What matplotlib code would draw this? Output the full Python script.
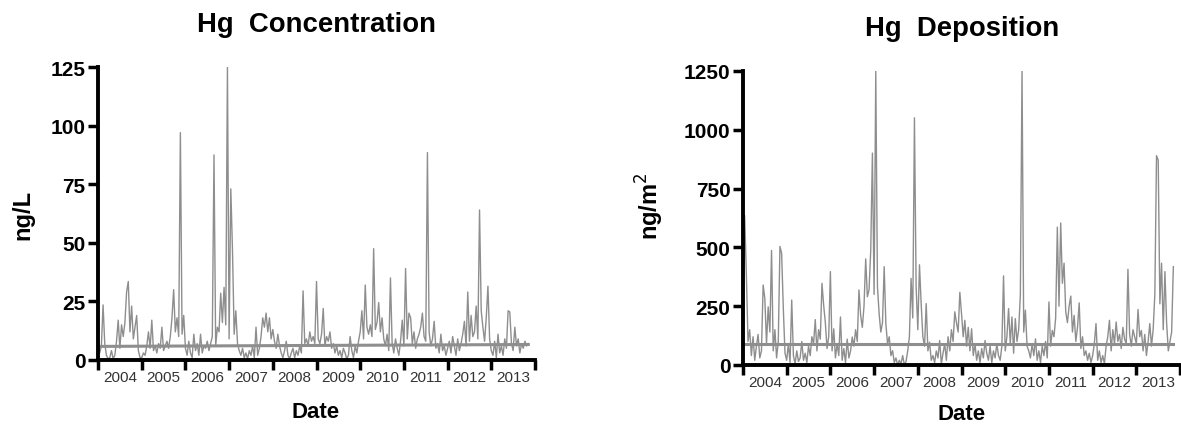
import numpy as np
import matplotlib.pyplot as plt

# biweekly samples, one row per year (2004 ... 2013)
conc_2004 = [8, 3, 6, 23.5, 7, 2, 0.5, 1, 4, 0.5, 2, 8, 17, 5, 15, 10, 16, 29, 33.5, 12, 23, 9, 14, 19, 4, 1]
conc_2005 = [1, 3, 2, 6, 12, 5, 17, 4, 6, 3, 7, 5, 14, 4, 6, 8, 5, 10, 18, 30, 12, 18, 10, 97, 11, 19]
conc_2006 = [5, 2, 8, 3, 1, 11, 4, 7, 2, 11, 3, 6, 5, 8, 4, 7, 10, 87.5, 6, 14, 12, 28.5, 16, 31, 15, 125]
conc_2007 = [9, 73, 47, 11, 21, 7, 4, 2, 5, 1, 3, 0.5, 4, 2, 6, 1, 14, 2, 5, 10, 18, 14, 20, 12, 18, 9]
conc_2008 = [13, 8, 5, 11, 6, 3, 1, 4, 8, 2, 0.5, 3, 5, 1, 4, 2, 6, 3, 29.5, 7, 9, 6, 12, 8, 10, 7]
conc_2009 = [33.5, 9, 7, 11, 22, 6, 10, 8, 12, 5, 7, 3, 6, 2, 4, 1, 5, 3, 0.5, 2, 10, 4, 1, 6, 3, 8]
conc_2010 = [12, 21, 9, 32, 14, 11, 15, 10, 47.5, 13, 16, 24.5, 12, 18, 9, 6, 11, 4, 35, 7, 3, 9, 5, 2, 8, 17]
conc_2011 = [6, 39, 9, 20, 18, 7, 12, 5, 9, 11, 14, 20, 10, 8, 88.5, 12, 6, 9, 16.5, 5, 7, 3, 11, 4, 6, 2]
conc_2012 = [5, 8, 3, 10, 6, 2, 9, 4, 7, 11, 16.5, 6, 29, 8, 19, 10, 12, 23, 9, 64, 21, 14, 8, 18, 31.5, 9]
conc_2013 = [4, 2, 8, 1, 11, 3, 6, 2, 9, 5, 21, 20.5, 7, 4, 14, 6, 9, 3, 7, 5, 8, 6, 7]

dep_2004 = [210, 636, 390, 100, 150, 40, 120, 20, 80, 130, 30, 60, 340, 283, 90, 247, 140, 487, 60, 150, 30, 100, 504, 475, 240, 50]
dep_2005 = [20, 90, 10, 276, 40, 5, 60, 15, 30, 100, 20, 50, 10, 80, 40, 120, 90, 193, 60, 150, 110, 347, 254, 180, 70, 120]
dep_2006 = [397, 60, 154, 30, 90, 40, 204, 20, 70, 10, 110, 30, 60, 119, 80, 150, 100, 319, 211, 160, 250, 451, 290, 320, 487, 901]
dep_2007 = [300, 1250, 333, 218, 140, 180, 418, 175, 90, 120, 40, 61, 10, 30, 0, 20, 5, 40, 0, 15, 60, 120, 368, 200, 1051, 333]
dep_2008 = [150, 426, 260, 120, 80, 261, 60, 97, 20, 40, 10, 60, 30, 104, 5, 50, 90, 20, 120, 60, 150, 100, 226, 180, 140, 309]
dep_2009 = [219, 120, 190, 80, 160, 60, 154, 40, 90, 20, 60, 10, 70, 30, 104, 50, 20, 80, 10, 60, 30, 90, 40, 20, 80, 379]
dep_2010 = [60, 120, 240, 90, 204, 50, 197, 100, 150, 297, 1250, 140, 233, 80, 60, 30, 90, 40, 111, 20, 60, 10, 80, 40, 100, 30]
dep_2011 = [268, 80, 147, 120, 200, 586, 250, 604, 347, 433, 226, 180, 250, 293, 140, 211, 100, 160, 264, 70, 120, 40, 60, 20, 50, 10]
dep_2012 = [40, 90, 176, 20, 60, 10, 40, 5, 80, 120, 190, 60, 150, 90, 183, 100, 130, 70, 160, 110, 90, 407, 130, 80, 150, 120]
dep_2013 = [90, 236, 120, 147, 60, 130, 40, 100, 176, 80, 150, 300, 890, 871, 260, 433, 150, 397, 180, 60, 100, 140, 418]

conc_trend = [5.8, 6.6]
dep_trend = [89, 89]

years = [2004, 2005, 2006, 2007, 2008, 2009, 2010, 2011, 2012, 2013]

conc = np.concatenate([conc_2004, conc_2005, conc_2006, conc_2007, conc_2008,
                       conc_2009, conc_2010, conc_2011, conc_2012, conc_2013])
dep = np.concatenate([dep_2004, dep_2005, dep_2006, dep_2007, dep_2008,
                      dep_2009, dep_2010, dep_2011, dep_2012, dep_2013])

plt.rcParams['font.family'] = ['Liberation Sans', 'DejaVu Sans']

fig = plt.figure(figsize=(11.81, 4.27), dpi=100)
ax1 = fig.add_axes([0.0830, 0.1546, 0.3700, 0.6861])
ax2 = fig.add_axes([0.6291, 0.1429, 0.3701, 0.6885])

gray = "#8e8e8e"


def draw(ax, values, trend, ymax, step):
    t = years[0] + np.arange(len(values)) / 26.0
    ax.plot(t, values, color=gray, lw=1.0)
    ax.plot([t[0], t[-1]], trend, color=gray, lw=2.2)
    ax.set_xlim(years[0], years[-1] + 1)
    ax.set_ylim(0, ymax)
    for s in ["top", "right"]:
        ax.spines[s].set_visible(False)
    for s in ["left", "bottom"]:
        ax.spines[s].set_linewidth(2.8)
    ax.set_yticks(np.arange(0, ymax + 1, step))
    ax.set_xticks(np.arange(years[0], years[-1] + 2))
    ax.set_xticklabels([])
    ax.set_xticks(np.array(years) + 0.5, minor=True)
    ax.set_xticklabels([str(y) for y in years], minor=True)
    ax.tick_params(axis="x", which="major", length=7, width=2.5)
    ax.tick_params(axis="x", which="minor", length=0, pad=7, labelsize=11,
                   labelcolor="#333333")
    ax.tick_params(axis="y", length=7, width=2.5, pad=2, labelsize=15)
    for lab in ax.get_yticklabels():
        lab.set_fontweight("bold")


draw(ax1, conc, conc_trend, 125, 25)
draw(ax2, dep, dep_trend, 1250, 250)

fig.text(317 / 1181, 1 - 25 / 427, "Hg  Concentration", ha="center", va="center",
         fontsize=19.8, fontweight="bold")
fig.text(962 / 1181, 1 - 29 / 427, "Hg  Deposition", ha="center", va="center",
         fontsize=19.8, fontweight="bold")
fig.text(23 / 1181, 1 - 215 / 427, "ng/L", rotation=90, ha="center", va="center",
         fontsize=17, fontweight="bold")
fig.text(650 / 1181, 1 - 206 / 427, "ng/m$^{2}$", rotation=90, ha="center",
         va="center", fontsize=17, fontweight="bold")
fig.text(316 / 1181, 1 - 413 / 427, "Date", ha="center", va="center",
         fontsize=16, fontweight="bold")
fig.text(962 / 1181, 1 - 415 / 427, "Date", ha="center", va="center",
         fontsize=16, fontweight="bold")

fig.savefig("out.png", dpi=100)
